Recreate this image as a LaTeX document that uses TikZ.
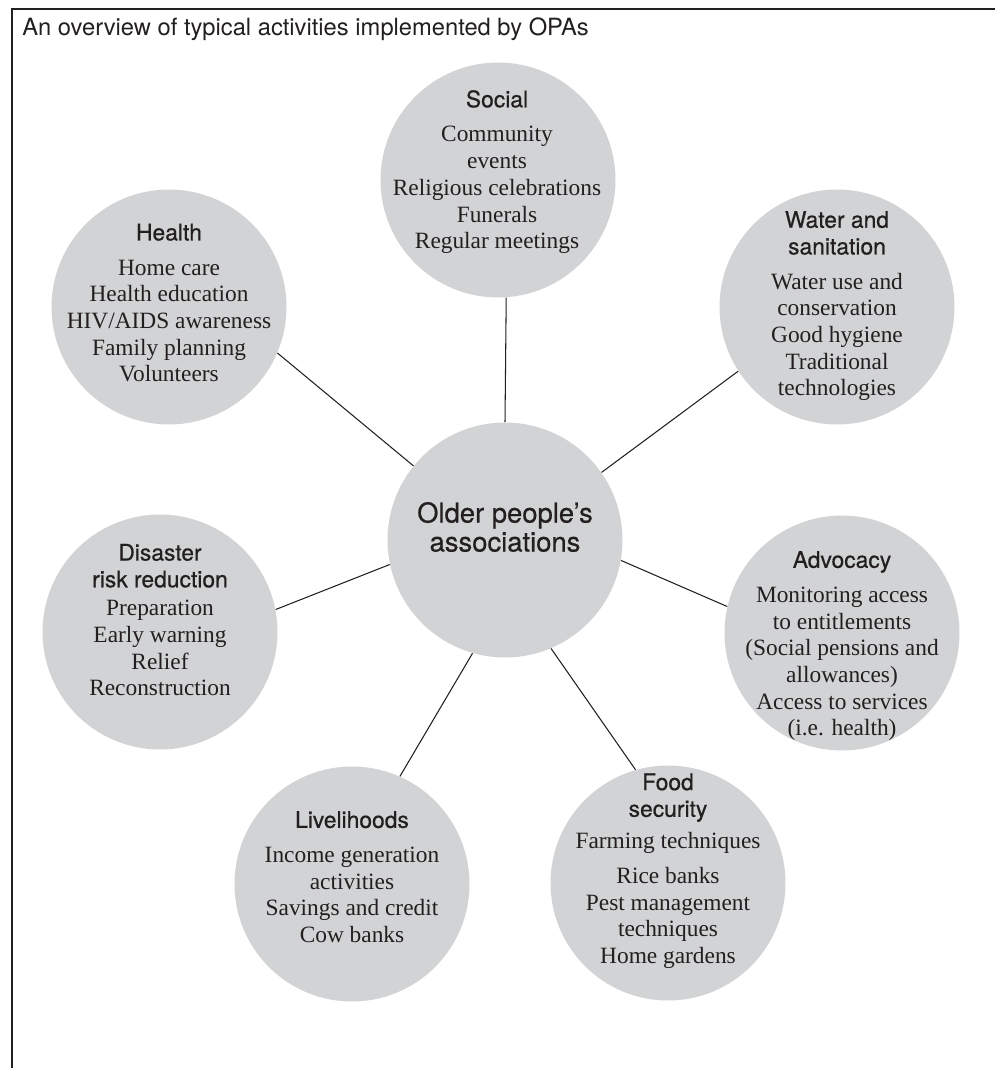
\documentclass[tikz,border=0pt]{standalone}
\usepackage{fontspec}
\setmainfont{Liberation Serif}
\setsansfont{TeX Gyre Heros}
\newfontfamily\medsans[FakeBold=0.6]{TeX Gyre Heros}
\definecolor{bubgray}{RGB}{209,211,212}
\definecolor{ink}{RGB}{35,31,32}
\newcommand{\hd}[1]{{\medsans\fontsize{13}{15.2}\selectfont #1}}

\begin{document}
\begin{tikzpicture}[x=0.02cm, y=-0.02cm,
	bub/.style={circle, fill=bubgray, minimum size=4.7cm, inner sep=0pt},
	txt/.style={align=center, text=ink, inner sep=0pt, font=\fontsize{13.3}{15.2}\selectfont},
	link/.style={draw=ink, line width=0.6pt}]
\useasboundingbox (0,0) rectangle (995,1068);

% frame and title
\draw [line width=0.9pt, ink] (12,1068)--(12,9)--(995,9);
\node [txt, anchor=base west, font=\sffamily\fontsize{13.5}{15}\selectfont] (title) at (22,36) {An overview of typical activities implemented by OPAs};

% circles
\node [bub] (opa) at (505,540) {};
\node [bub] (social) at (498,180) {};
\node [bub] (water) at (837,307) {};
\node [bub] (adv) at (842,633) {};
\node [bub] (food) at (668,883) {};
\node [bub] (live) at (352,884) {};
\node [bub] (drr) at (160,632) {};
\node [bub] (health) at (169,307) {};

% spokes
\draw [link] (opa.90)--(social.-86);
\draw [link] (opa.35)--(water.-147);
\draw [link] (opa.-10.4)--(adv.167);
\draw [link] (opa.-67.6)--(food.106);
\draw [link] (opa.-106)--(live.66);
\draw [link] (opa.192)--(drr.11.6);
\draw [link] (opa.141)--(health.-23.5);

% texts
\node [txt, font=\medsans\fontsize{15.6}{16.5}\selectfont] (opa-t) at (505,527) {Older people’s\\associations};
\node [txt] (social-t) at (497,172) {\hd{Social}\\[4.5pt]Community\\events\\Religious celebrations\\Funerals\\Regular meetings};
\node [txt] (water-t) at (837,306) {\hd{Water and}\\\hd{sanitation}\\[4.5pt]Water use and\\conservation\\Good hygiene\\Traditional\\technologies};
\node [txt] (adv-t) at (842,646) {\hd{Advocacy}\\[4.5pt]Monitoring access\\to entitlements\\(Social pensions and\\allowances)\\Access to services\\(i.e. health)};
\node [txt] (food-t) at (668,871) {\hd{Food}\\\hd{security}\\[3pt]Farming techniques\\[4.5pt]Rice banks\\Pest management\\techniques\\Home gardens};
\node [txt] (live-t) at (352,877) {\hd{Livelihoods}\\[4.5pt]Income generation\\activities\\Savings and credit\\Cow banks};
\node [txt] (drr-t) at (160,620) {\hd{Disaster}\\\hd{risk reduction}\\[1pt]Preparation\\Early warning\\Relief\\Reconstruction};
\node [txt] (health-t) at (169,303) {\hd{Health}\\[4.5pt]Home care\\Health education\\HIV/AIDS awareness\\Family planning\\Volunteers};

\end{tikzpicture}
\end{document}
